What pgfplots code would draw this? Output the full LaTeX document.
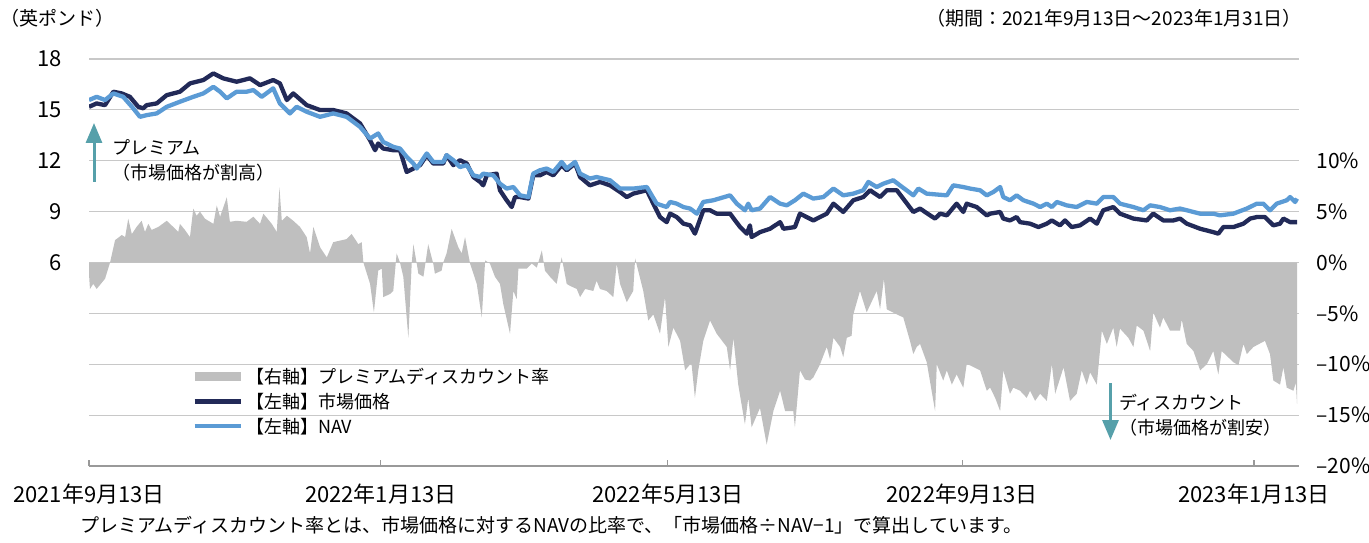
\documentclass[border=0pt]{standalone}
\usepackage{fontspec}
\setmainfont{Noto Sans CJK JP}
\usepackage{pgfplots}
\pgfplotsset{compat=1.18}
\usepackage{pgfplotstable}
\usetikzlibrary{arrows.meta}
\definecolor{navy}{HTML}{222A58}
\definecolor{lblue}{HTML}{5B9BD5}
\definecolor{areagray}{HTML}{BFBFBF}
\definecolor{gridgray}{HTML}{C8C8C8}
\definecolor{axisgray}{HTML}{999999}
\definecolor{arrteal}{HTML}{56A0AA}

\pgfplotstableread{
d v
0 15.18
3.2 15.38
6.7 15.28
10.2 16.07
13.7 15.97
17.1 15.77
20.6 15.18
22.7 15.09
24.1 15.28
28.3 15.38
32.5 15.87
38.0 16.07
42.2 16.56
47.8 16.76
52.0 17.15
56.1 16.86
61.7 16.66
67.3 16.86
71.5 16.46
77.0 16.76
79.8 16.56
82.7 15.58
85.4 15.97
91.0 15.28
96.6 14.99
102.1 14.99
107.7 14.79
113.3 14.20
117.5 13.21
119.6 12.62
120.9 13.02
123.0 12.72
127.2 12.62
130.0 12.62
132.8 11.34
135.6 11.54
138.4 11.74
141.2 12.33
143.9 11.84
148.1 11.84
149.5 12.33
152.3 11.74
155.1 12.03
157.9 11.84
160.7 11.04
163.5 10.75
164.8 10.55
166.3 11.14
170.4 11.24
171.8 10.26
174.6 9.67
176.7 9.27
178.1 9.86
180.2 9.86
183.7 9.77
185.7 11.14
188.5 11.14
191.3 11.34
194.1 11.14
197.6 11.74
199.7 11.44
203.2 11.84
205.3 11.04
209.4 10.55
213.6 10.75
217.8 10.55
222.0 10.16
224.8 9.86
227.5 10.06
233.2 10.26
235.9 9.47
238.7 8.68
241.5 8.38
242.9 8.88
245.7 8.68
248.5 8.29
251.3 8.19
253.3 7.70
256.8 9.08
259.6 9.08
262.4 8.88
268.0 8.88
270.1 8.48
272.2 8.09
275.0 7.70
276.3 8.19
277.0 7.50
280.5 7.79
284.7 7.99
288.9 8.38
290.3 7.99
295.1 8.09
297.2 8.88
302.8 8.48
308.4 8.88
311.2 9.47
315.3 8.98
319.5 9.67
323.7 9.86
326.5 10.26
330.7 9.86
333.5 10.26
337.7 10.26
344.6 8.98
347.4 9.18
351.6 8.78
353.7 8.59
355.8 8.88
358.6 8.78
362.7 9.47
365.5 8.98
366.9 9.47
371.1 9.27
375.3 8.78
376.7 8.88
380.9 8.98
382.2 8.59
385.0 8.48
387.8 8.68
389.2 8.38
393.4 8.29
396.9 8.09
400.4 8.29
402.5 8.48
405.9 8.19
408.0 8.48
410.8 8.09
414.3 8.19
418.5 8.59
421.3 8.29
424.0 9.08
428.2 9.27
431.0 8.88
436.6 8.59
442.2 8.48
444.9 8.88
449.1 8.48
453.3 8.48
456.1 8.59
458.9 8.29
464.5 7.99
470.0 7.79
472.1 7.70
474.2 8.09
478.4 8.09
482.6 8.29
485.4 8.59
488.2 8.68
491.6 8.68
495.1 8.19
497.9 8.29
499.3 8.59
502.1 8.38
505.0 8.38
}\price

\pgfplotstableread{
d v
0 15.58
3.2 15.77
6.7 15.58
10.2 15.97
14.3 15.77
18.5 15.09
21.3 14.59
24.1 14.69
28.3 14.79
32.5 15.18
38.0 15.48
43.6 15.77
47.8 15.97
52.0 16.36
54.8 16.07
57.6 15.68
61.7 16.07
65.9 16.07
68.7 16.17
72.2 15.77
77.0 16.27
79.8 15.38
84.0 14.79
86.8 15.18
91.0 14.89
96.6 14.59
102.1 14.79
107.7 14.59
113.3 14.00
117.5 13.31
120.9 13.61
123.0 13.11
127.2 12.82
130.0 12.72
132.8 12.23
135.6 11.84
137.0 11.54
141.2 12.43
143.9 11.93
148.1 11.93
149.5 12.33
152.3 12.03
155.1 11.63
157.9 11.74
160.7 11.14
163.5 11.04
164.8 11.24
169.0 11.14
171.8 10.65
174.6 10.36
177.4 10.45
180.2 9.96
183.7 9.86
185.7 11.24
188.5 11.44
191.3 11.54
194.1 11.34
197.6 11.93
199.7 11.54
203.2 11.93
205.3 11.24
209.4 10.95
212.2 11.04
217.8 10.85
222.0 10.36
227.5 10.36
233.2 10.45
237.3 9.47
241.5 9.27
242.9 9.57
245.7 9.47
248.5 9.27
251.3 9.18
254.1 8.88
256.8 9.57
261.0 9.67
268.0 9.96
270.8 9.47
274.2 9.08
275.6 9.47
277.0 9.08
280.5 9.18
284.7 9.86
288.9 9.47
291.7 9.37
295.1 9.67
298.6 10.06
302.8 9.77
307.0 9.86
311.2 10.36
315.3 9.96
319.5 10.06
323.7 10.26
325.8 10.75
329.3 10.45
332.1 10.65
336.2 10.85
339.0 10.55
344.6 9.96
346.7 10.36
350.2 10.06
358.6 9.96
361.3 10.55
365.5 10.45
368.3 10.36
372.5 10.26
375.3 9.96
378.1 10.16
380.9 10.45
382.2 9.86
385.0 9.67
387.8 9.96
390.6 9.67
394.8 9.47
397.6 9.27
400.4 9.47
402.5 9.27
404.6 9.57
408.7 9.37
412.9 9.27
417.1 9.57
421.3 9.47
424.0 9.86
428.2 9.86
431.0 9.47
436.6 9.27
440.8 9.08
443.6 9.37
447.7 9.27
451.9 9.08
456.1 9.18
458.9 9.08
464.5 8.88
470.0 8.88
472.8 8.78
478.4 8.88
484.0 9.18
488.2 9.47
490.9 9.47
493.7 9.08
496.5 9.47
500.7 9.67
502.1 9.86
504.2 9.57
505.0 9.77
}\nav

\pgfplotstableread{
d p
0 0
0.1 -1.5
0.4 -2.6
1.8 -2.1
3.2 -2.6
6.7 -1.6
8.8 0
10.9 2.2
13.7 2.7
15.1 2.5
16.4 4.3
17.9 2.8
19.9 3.5
22.0 4.1
23.4 3.0
24.8 3.8
26.2 3.2
29.0 3.5
32.5 4.1
35.2 3.5
37.3 3.0
38.0 3.8
40.1 3.2
42.2 2.5
43.6 5.3
45.0 4.6
46.4 5.0
48.5 4.3
52.0 3.8
53.4 5.6
54.8 4.5
57.6 6.4
58.9 4.0
61.7 4.1
65.9 4.0
68.7 4.5
71.5 3.8
72.9 4.8
76.4 3.8
78.5 3.0
79.6 7.4
80.6 4.1
82.7 4.6
85.4 4.1
88.2 3.5
91.0 2.5
92.4 0.9
93.8 3.5
96.6 1.5
99.4 0.5
102.1 2.0
107.7 2.3
109.8 2.8
112.6 1.8
114.0 2.0
114.7 0
117.5 -2.1
119.1 -4.9
120.9 -0.8
122.4 -0.6
123.0 -3.4
125.8 -3.1
127.2 -2.8
128.6 0.9
130.0 0
131.4 -1.4
133.5 -7.4
134.9 -0.1
135.6 1.8
137.0 -0.1
137.7 -1.1
139.8 -1.4
141.8 1.8
143.9 -0.1
144.6 -1.1
147.4 -0.8
148.1 0
149.5 0.9
151.6 3.3
154.4 1.5
155.8 0.9
157.2 2.5
159.3 -0.1
162.1 -2.1
164.2 -5.4
165.6 0.2
167.6 -0.1
169.7 -1.4
171.8 -2.1
173.2 -4.1
176.0 -7.0
177.4 -2.8
178.8 -3.6
179.5 -0.6
183.0 -0.6
185.1 -0.1
187.2 -0.5
189.3 1.2
190.6 -0.8
192.7 -1.4
195.5 -2.1
197.6 0.5
199.7 -2.1
201.1 -2.3
203.9 -2.6
205.3 -3.4
207.4 -2.6
210.8 -2.8
212.2 -1.8
213.6 -2.6
216.4 -2.8
219.2 -3.4
220.6 -0.1
222.0 -2.1
224.8 -3.9
227.5 -2.8
228.3 0.4
231.7 -2.8
233.8 -5.7
235.9 -5.1
238.7 -7.0
240.8 -3.4
242.2 -8.3
244.3 -6.4
247.1 -7.7
249.2 -10.6
251.3 -10.0
251.9 -10.0
253.3 -13.3
254.7 -10.6
256.8 -7.7
259.6 -5.7
262.4 -7.0
266.6 -8.3
268.0 -10.6
269.4 -7.4
271.4 -12.0
274.2 -15.9
275.6 -13.3
277.0 -16.2
280.5 -14.3
283.3 -17.9
286.1 -14.6
288.9 -12.6
291.0 -14.6
294.4 -14.6
295.1 -16.2
297.2 -10.6
299.3 -11.5
301.4 -11.6
302.8 -11.3
305.6 -10.0
308.4 -8.3
309.8 -9.5
311.2 -7.4
314.0 -8.3
315.3 -9.3
316.8 -7.4
318.8 -7.2
319.5 -5.1
322.3 -2.8
325.1 -4.9
329.3 -2.8
330.7 -4.6
332.3 -1.6
333.5 -4.6
337.7 -5.1
340.4 -5.4
343.2 -7.7
344.6 -9.0
346.0 -8.3
347.4 -8.0
350.2 -9.8
353.7 -14.6
354.4 -10.0
357.1 -11.6
358.6 -10.6
360.7 -12.0
362.7 -11.0
365.5 -12.3
366.9 -10.0
368.3 -10.1
372.5 -10.6
375.3 -12.6
376.7 -12.3
378.8 -13.3
380.9 -14.6
382.2 -10.6
385.0 -12.9
386.4 -12.3
389.2 -12.6
392.0 -13.3
393.4 -12.6
395.5 -13.6
397.6 -12.9
400.4 -13.6
402.5 -10.0
403.9 -12.9
407.4 -10.3
410.1 -13.6
412.9 -12.9
415.0 -10.6
417.1 -12.0
418.5 -10.8
421.3 -12.0
423.4 -6.7
425.5 -8.0
428.2 -6.4
429.6 -8.3
431.0 -6.5
434.5 -7.4
436.6 -8.3
438.0 -6.2
440.8 -6.7
443.6 -8.7
444.9 -4.9
447.7 -6.4
449.1 -5.4
451.9 -6.7
456.1 -6.7
456.8 -5.6
458.9 -8.0
461.7 -8.7
464.5 -10.6
467.3 -10.0
470.0 -8.7
472.1 -11.0
473.5 -8.7
478.4 -9.8
480.5 -10.1
482.6 -8.0
484.0 -9.0
486.8 -8.3
491.6 -7.7
493.7 -9.0
495.1 -11.6
497.9 -12.0
499.3 -10.3
500.7 -12.3
503.5 -12.6
504.5 -11.8
505 -13.9
505 0
}\premium

\begin{document}
\begin{tikzpicture}
\useasboundingbox (0,0) rectangle (1369pt,542pt);
% right axis: premium/discount area + grid
\begin{axis}[
  at={(89pt,76pt)}, anchor=south west, scale only axis,
  width=1210.4pt, height=407pt,
  xmin=0, xmax=506, ymin=-20, ymax=20,
  axis x line=none,
  axis y line*=right,
  y axis line style={draw=none},
  ytick={-20,-15,...,10},
  yticklabels={–20\%,–15\%,–10\%,–5\%,0\%,5\%,10\%},
  extra y ticks={15,20}, extra y tick labels={},
  extra y tick style={grid=major},
  ymajorgrids,
  grid style={draw=gridgray, line width=1.2pt},
  ytick style={draw=none},
  major tick length=0pt,
  yticklabel style={anchor=west, inner sep=0pt, xshift=17pt, font=\fontsize{21pt}{25pt}\selectfont},
]
\addplot[fill=areagray, draw=none] table[x=d, y=p] {\premium} \closedcycle;
\end{axis}
% left axis: price and NAV
\begin{axis}[
  at={(89pt,76pt)}, anchor=south west, scale only axis,
  width=1210.4pt, height=407pt,
  xmin=0, xmax=506, ymin=-6, ymax=18,
  axis x line*=bottom, axis y line*=left,
  y axis line style={draw=none},
  x axis line style={draw=axisgray, line width=1.5pt},
  xtick={0,122,242,365,487},
  xticklabels={2021年9月13日,2022年1月13日,2022年5月13日,2022年9月13日,2023年1月13日},
  xtick align=inside,
  xtick style={draw=axisgray, line width=1.2pt},
  major tick length=6pt,
  ytick={6,9,12,15,18}, yticklabels={6,9,12,15,18},
  ytick style={draw=none},
  xticklabel style={anchor=base, inner sep=0pt, yshift=-36pt, font=\fontsize{22pt}{26pt}\selectfont},
  yticklabel style={anchor=east, inner sep=0pt, xshift=-27pt, font=\fontsize{22pt}{26pt}\selectfont},
  legend style={at={(0.0834,0.2432)}, anchor=north west, draw=none, fill=none,
    inner sep=0pt, row sep=6pt,
    nodes={inner sep=1pt, font=\fontsize{18pt}{20pt}\selectfont}},
  legend cell align=left,
  legend image code/.code={\draw[#1] (0pt,0pt) -- (46pt,0pt);},
]
\addlegendimage{color=areagray, line width=9pt}
\addlegendentry{【右軸】プレミアムディスカウント率}
\addplot[navy, line width=4.3pt, line join=round] table[x=d, y=v] {\price};
\addlegendentry{【左軸】市場価格}
\addplot[lblue, line width=4.3pt, line join=round] table[x=d, y=v] {\nav};
\addlegendentry{【左軸】NAV}
\end{axis}
% annotations
\draw[arrteal, line width=3pt, -{Triangle[width=16pt,length=20pt]}] (94pt,360pt) -- (94pt,419pt);
\draw[arrteal, line width=3pt, -{Triangle[width=16pt,length=20pt]}] (1110.5pt,159pt) -- (1110.5pt,102pt);
\node[anchor=west, align=left, inner sep=0pt, font=\fontsize{18pt}{25pt}\selectfont] at (112pt,381.5pt) {プレミアム\\（市場価格が割高）};
\node[anchor=west, align=left, inner sep=0pt, font=\fontsize{18pt}{25pt}\selectfont] at (1119pt,126.5pt) {ディスカウント\\（市場価格が割安）};
\node[anchor=west, inner sep=0pt, font=\fontsize{19pt}{22pt}\selectfont] at (0pt,524pt) {（英ポンド）};
\node[anchor=east, inner sep=0pt, font=\fontsize{19pt}{22pt}\selectfont] at (1302pt,524pt) {（期間：2021年9月13日～2023年1月31日）};
\node[anchor=west, inner sep=0pt, font=\fontsize{19pt}{22pt}\selectfont] at (80pt,17pt) {プレミアムディスカウント率とは、市場価格に対するNAVの比率で、「市場価格÷NAV−1」で算出しています。};
\end{tikzpicture}
\end{document}
